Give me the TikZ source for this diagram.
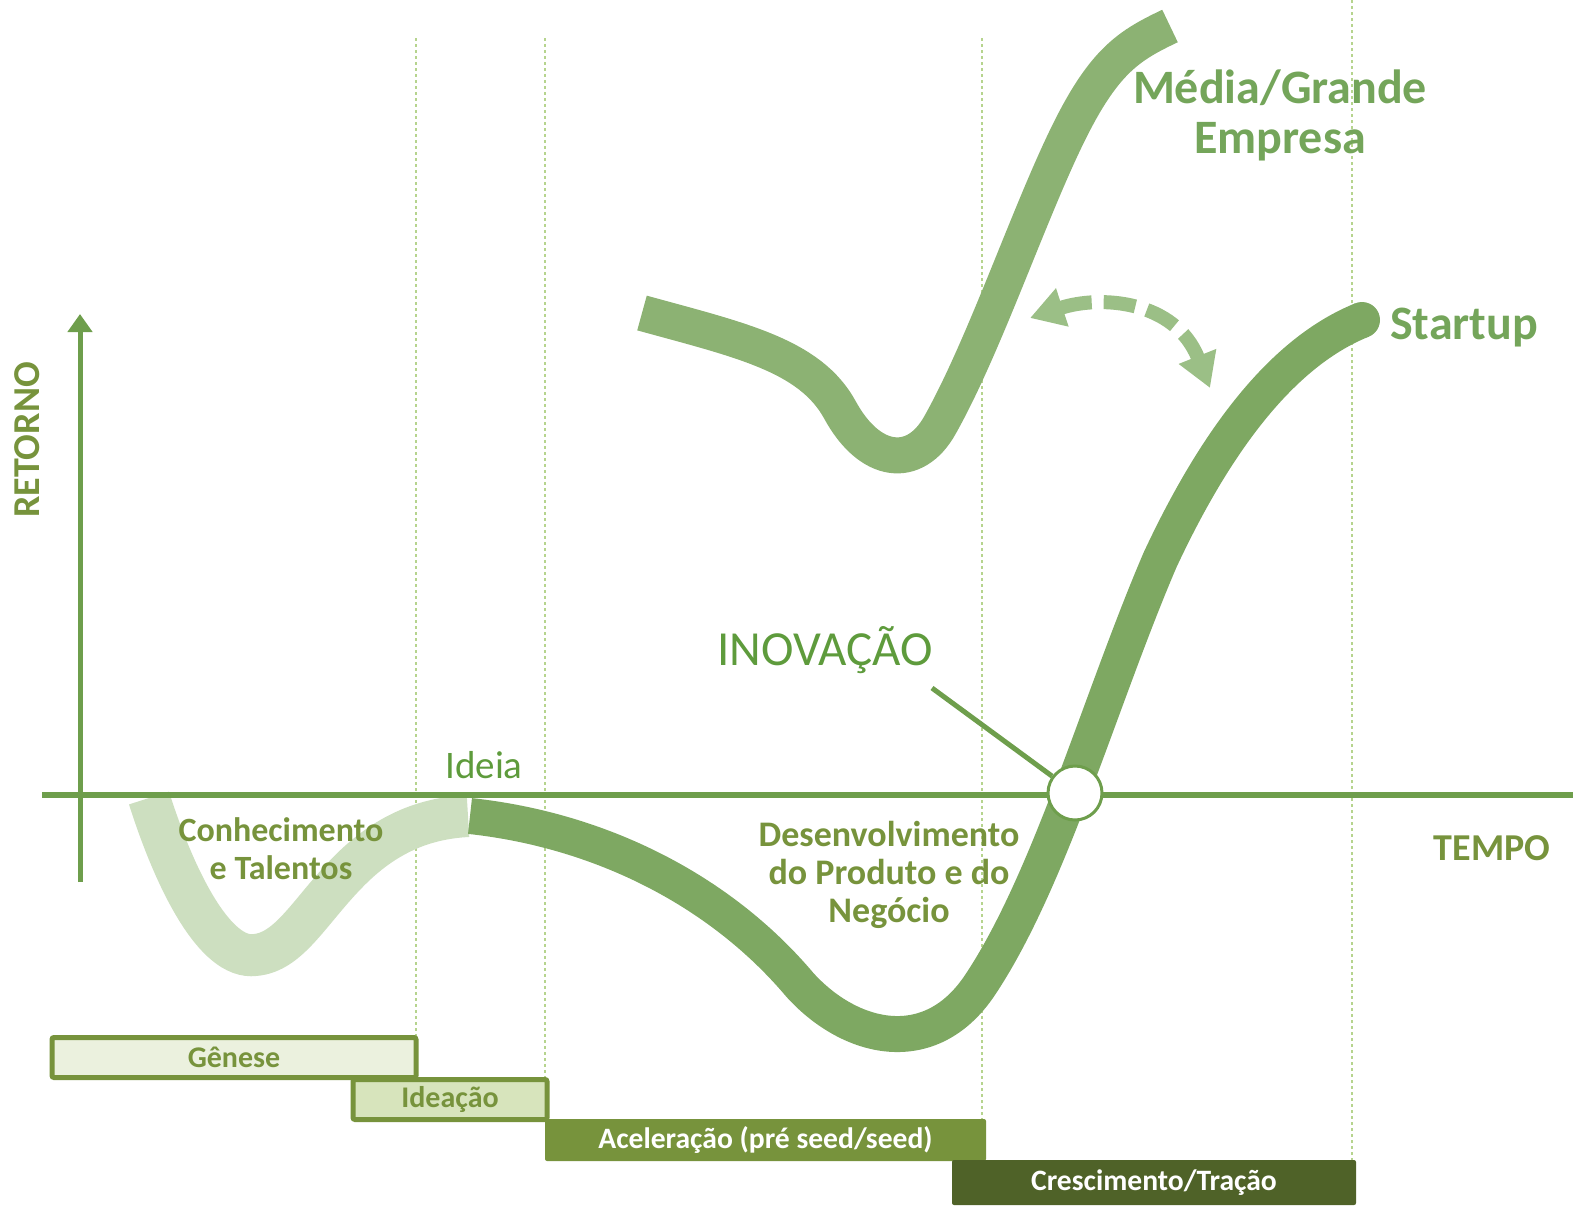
\documentclass[tikz,border=0pt]{standalone}
\usepackage{fontspec}
\setmainfont{Carlito}
\usetikzlibrary{arrows.meta}
\definecolor{axisg}{HTML}{6E9E4C}
\definecolor{olive}{HTML}{77933C}
\definecolor{darkolive}{HTML}{4F6228}
\definecolor{lightc}{HTML}{CDDFC0}
\definecolor{darkc}{HTML}{7EA862}
\definecolor{topc}{HTML}{8CB273}
\definecolor{dashc}{HTML}{9BBF86}
\definecolor{labg}{HTML}{74A55A}
\definecolor{innog}{HTML}{5E9B3C}
\definecolor{dotg}{HTML}{B6D48E}
\definecolor{genfill}{HTML}{EBF1DE}
\definecolor{idefill}{HTML}{D7E4BC}
\tikzset{
  guide/.style={dotg, line width=1pt, dash pattern=on 1.5pt off 1.5pt},
  phasebox/.style={draw=olive, line width=2.5pt, rounded corners=1pt, inner sep=0pt, font=\fontsize{15}{17}\selectfont\bfseries},
  solidbox/.style={rounded corners=1pt, inner sep=0pt, text=white, font=\fontsize{14.8}{17}\selectfont\bfseries},
  curvelabel/.style={text=olive, align=center, font=\fontsize{17}{19}\selectfont\bfseries},
  biglabel/.style={text=labg, align=center, font=\fontsize{24}{25}\selectfont\bfseries},
  axislabel/.style={text=olive, font=\fontsize{19}{21}\selectfont\bfseries},
}
\begin{document}
\begin{tikzpicture}[x=0.5pt,y=-0.5pt]
\useasboundingbox (0,0) rectangle (1573,1205);
% guides
\draw[guide] (416,38) -- (416,1037);
\draw[guide] (545,38) -- (545,1120);
\draw[guide] (982,38) -- (982,1160);
\draw[guide] (1352,0) -- (1352,1160);
% light curve
\draw[lightc, line width=21pt] (149,798) .. controls (175,880) and (215,960) .. (255,955)
  .. controls (290,952) and (310,910) .. (350,870) .. controls (390,830) and (430,818) .. (468,816);
% dark curve
\draw[darkc, line width=18pt] (470,816) .. controls (600,830) and (720,890) .. (800,985)
  .. controls (850,1040) and (930,1060) .. (980,985)
  .. controls (1050,880) and (1100,700) .. (1160,560)
  .. controls (1230,410) and (1300,345) .. (1362,320);
\fill[darkc] (1362,320) circle[radius=9pt];
% top curve
\draw[topc, line width=18pt] (642,313) .. controls (740,340) and (810,355) .. (840,410)
  .. controls (870,465) and (915,470) .. (940,425)
  .. controls (985,345) and (1030,210) .. (1070,130)
  .. controls (1105,60) and (1130,45) .. (1170,26);
% axes
\draw[axisg, line width=3pt] (42,795) -- (1573,795);
\draw[axisg, line width=2.5pt, -{Triangle[length=9pt,width=12pt]}] (80,882) -- (80,314);
% dashed double arrow
\coordinate (dA) at (1030,318);
\coordinate (dB) at (1210,388);
\draw[dashc, line width=7pt, dash pattern=on 16pt off 6pt,
  {Triangle[length=17pt,width=19pt]}-{Triangle[length=17pt,width=19pt]}]
  (dA) .. controls (1100,295) and (1175,300) .. (dB);
% innovation
\node[circle, draw=axisg, fill=white, line width=1.5pt, minimum size=27pt, inner sep=0pt] (circ) at (1075,793) {};
\coordinate (innotip) at (932,688);
\draw[axisg, line width=2.5pt] (innotip) -- (circ);
\node[text=innog, font=\fontsize{24.5}{26}\selectfont] (inno) at (825,650) {INOVAÇÃO};
\node[text=innog, font=\fontsize{19.5}{21}\selectfont] (ideia) at (484,765) {Ideia};
% labels
\node[biglabel] (media) at (1280,115) {Média/Grande\\Empresa};
\node[biglabel] (startup) at (1464,328) {Startup};
\node[curvelabel] (conh) at (281,849) {Conhecimento\\e Talentos};
\node[curvelabel, font=\fontsize{18}{19}\selectfont\bfseries] (desen) at (889,875) {Desenvolvimento\\do Produto e do\\Negócio};
\node[axislabel] (tempo) at (1492,848) {TEMPO};
\node[axislabel, rotate=90] (retorno) at (27,440) {RETORNO};
% phases
\node[phasebox, fill=genfill, text=olive, minimum width=182pt, minimum height=20pt] (gen) at (234,1057.5) {Gênese};
\node[phasebox, fill=idefill, text=olive, minimum width=97pt, minimum height=20pt] (ide) at (450,1099.5) {Ideação};
\node[solidbox, fill=olive, minimum width=220.5pt, minimum height=21pt] (acel) at (765.5,1140) {Aceleração (pré seed/seed)};
\node[solidbox, fill=darkolive, minimum width=202pt, minimum height=22.5pt] (cres) at (1154,1182.5) {Crescimento/Tração};
\end{tikzpicture}
\end{document}
